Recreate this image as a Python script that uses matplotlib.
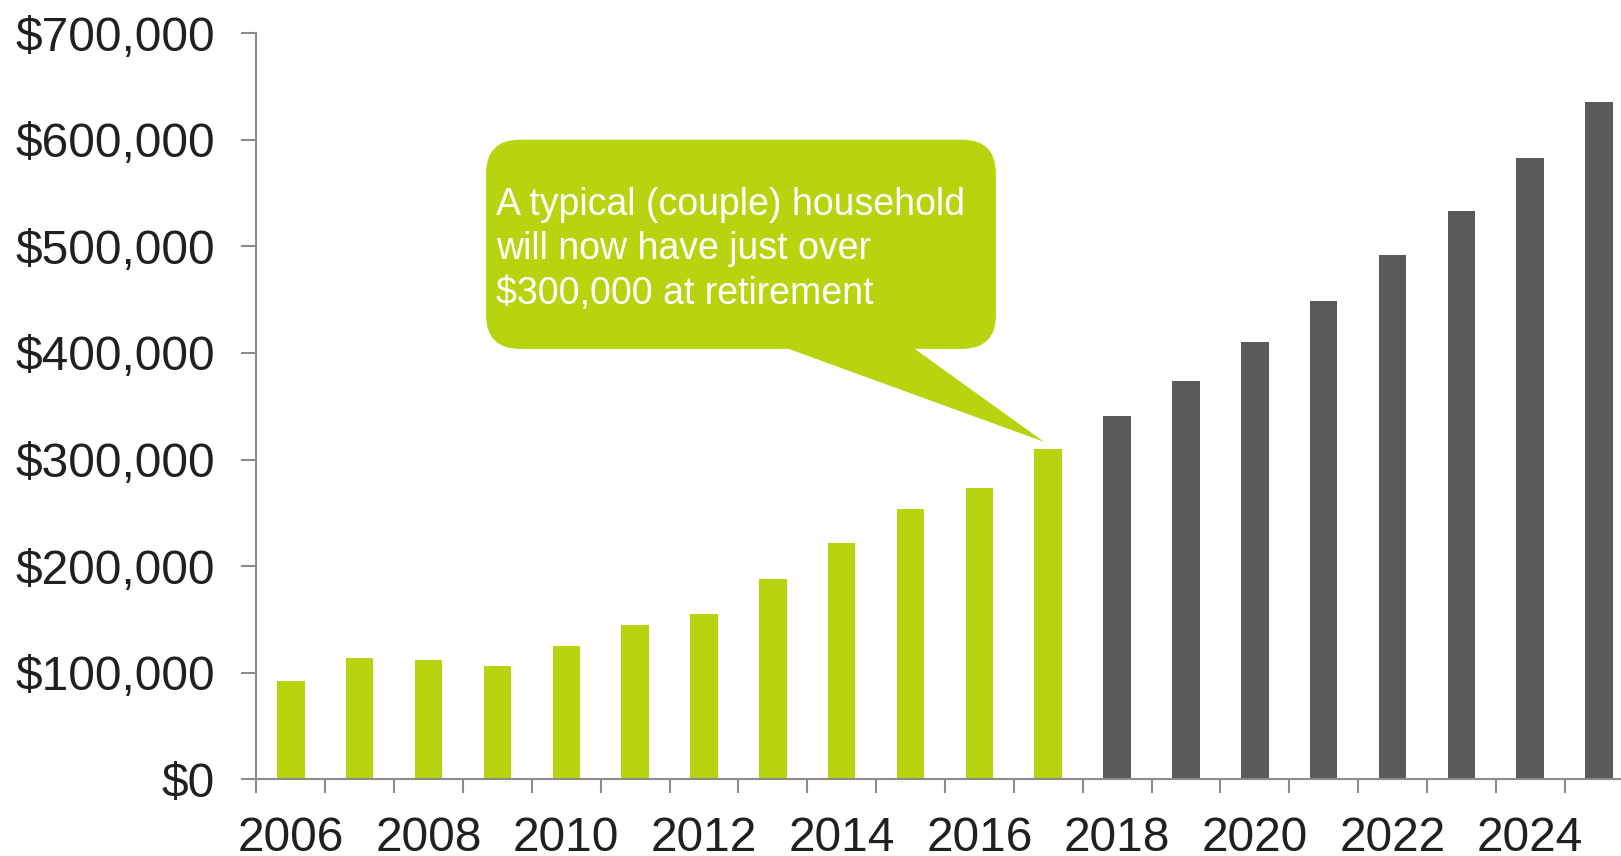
import numpy as np
import matplotlib
matplotlib.use("Agg")
import matplotlib.pyplot as plt
from matplotlib.patches import FancyBboxPatch, Polygon
from matplotlib.transforms import IdentityTransform
from matplotlib.ticker import FuncFormatter

# savings at retirement by year; green = history, gray = projection
years = list(range(2006, 2026))
savings = [92000, 113500, 112500, 106500, 125000, 144500, 155000, 188000,
           222000, 254000, 273500, 309500, 340500, 374000, 410500, 449000,
           491500, 533500, 582500, 635000]
last_actual = 2017
callout_lines = ["A typical (couple) household",
                 "will now have just over",
                 "$300,000 at retirement"]

green = "#b8d40e"
gray = "#5a5a5a"
axis_col = "#8c8c8c"
text_col = "#231f20"

plt.rcParams['font.family'] = ['Liberation Sans', 'DejaVu Sans']

fig = plt.figure(figsize=(16.21, 8.56), dpi=100)
ax = fig.add_axes([0.1582, 0.0894, 0.8495, 0.872])

x = np.arange(len(years))
colors = [green if y <= last_actual else gray for y in years]
ax.bar(x, savings, width=0.4, color=colors, zorder=2)

ax.set_xlim(-0.5, len(years) - 0.5)
ax.set_ylim(0, 700000)
ax.set_yticks(np.arange(0, 700001, 100000))
ax.yaxis.set_major_formatter(FuncFormatter(lambda v, p: "${:,.0f}".format(v)))

# tick marks sit between the bars, labels under every other bar
ax.set_xticks(np.arange(-0.5, len(years), 1.0))
ax.set_xticklabels([])
ax.set_xticks(x[::2], minor=True)
ax.set_xticklabels([str(y) for y in years[::2]], minor=True)

for side in ("top", "right"):
    ax.spines[side].set_visible(False)
for side in ("left", "bottom"):
    ax.spines[side].set_color(axis_col)
    ax.spines[side].set_linewidth(1.5)

ax.tick_params(axis="y", which="major", length=11, width=1.5, color=axis_col,
               labelsize=34.5, labelcolor=text_col, pad=19)
ax.tick_params(axis="x", which="major", length=10, width=1.5, color=axis_col)
ax.tick_params(axis="x", which="minor", length=0, labelsize=34.5,
               labelcolor=text_col, pad=26)

# speech-bubble callout pointing at the last actual bar
fig.canvas.draw()
to_px = ax.transData.transform
(bx0, by0) = to_px((2.835, 403800))
(bx1, by1) = to_px((10.24, 600000))
tail = [to_px((7.15, 403800)), to_px((9.02, 403800)), to_px((10.94, 316600))]

box = FancyBboxPatch((bx0, by0), bx1 - bx0, by1 - by0,
                     boxstyle="round,pad=0,rounding_size=34",
                     transform=IdentityTransform(), facecolor=green,
                     edgecolor="none", zorder=3)
fig.add_artist(box)
tail[0][1] += 2
tail[1][1] += 2
fig.add_artist(Polygon(tail, closed=True, transform=IdentityTransform(),
                       facecolor=green, edgecolor="none", zorder=3))

for i, line in enumerate(callout_lines):
    fig.text(bx0 + 10, by1 - 75 - i * 44.5, line, transform=IdentityTransform(),
             color="white", fontsize=27, va="baseline", ha="left", zorder=4)

fig.savefig("out.png", dpi=100)
